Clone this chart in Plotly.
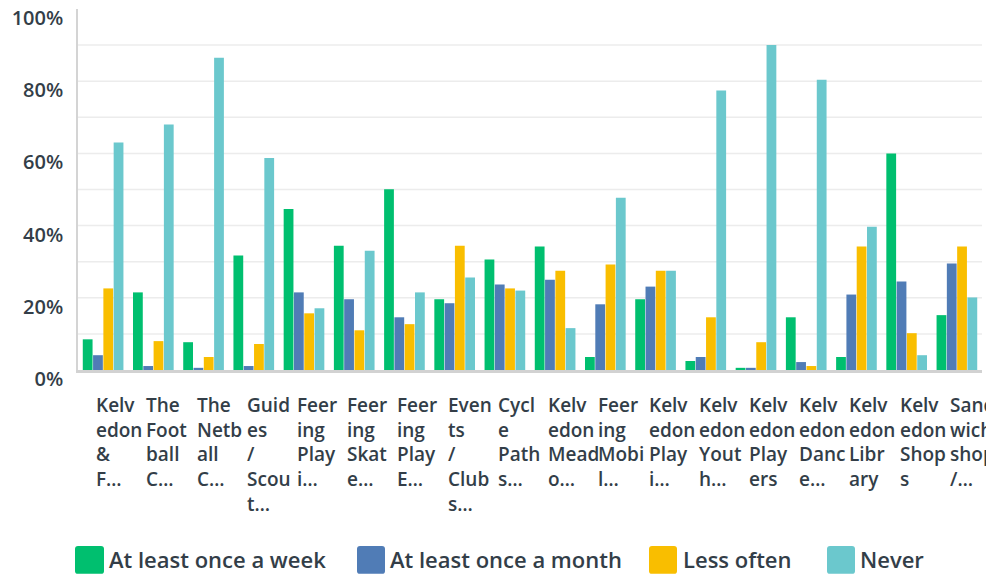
import plotly.graph_objects as go

# ---------------- data ----------------
categories = [
    "Kelv<br>edon<br>&<br>F…",
    "The<br>Foot<br>ball<br>C…",
    "The<br>Netb<br>all<br>C…",
    "Guid<br>es<br>/<br>Scou<br>t…",
    "Feer<br>ing<br>Play<br>i…",
    "Feer<br>ing<br>Skat<br>e…",
    "Feer<br>ing<br>Play<br>E…",
    "Even<br>ts<br>/<br>Club<br>s…",
    "Cycl<br>e<br>Path<br>s…",
    "Kelv<br>edon<br>Mead<br>o…",
    "Feer<br>ing<br>Mobi<br>l…",
    "Kelv<br>edon<br>Play<br>i…",
    "Kelv<br>edon<br>Yout<br>h…",
    "Kelv<br>edon<br>Play<br>ers",
    "Kelv<br>edon<br>Danc<br>e…",
    "Kelv<br>edon<br>Libr<br>ary",
    "Kelv<br>edon<br>Shop<br>s",
    "Sand<br>wich<br>shop<br>/…",
]

series_names = ["At least once a week", "At least once a month", "Less often", "Never"]

weekly = [8.5, 21.5, 7.7, 31.7, 44.6, 34.4, 50.1, 19.6, 30.6, 34.2, 3.6, 19.6, 2.5, 0.6, 14.6, 3.6, 60.0, 15.2]
monthly = [4.1, 1.1, 0.6, 1.1, 21.5, 19.6, 14.6, 18.5, 23.7, 25.0, 18.2, 23.1, 3.6, 0.6, 2.2, 20.9, 24.5, 29.5]
less_often = [22.6, 8.0, 3.6, 7.2, 15.7, 11.0, 12.7, 34.4, 22.6, 27.5, 29.2, 27.5, 14.6, 7.7, 1.1, 34.2, 10.2, 34.2]
never = [63.0, 68.0, 86.5, 58.7, 17.1, 33.0, 21.5, 25.6, 22.0, 11.6, 47.7, 27.5, 77.4, 90.0, 80.4, 39.7, 4.1, 20.1]

y_tick_vals = [0, 0.2, 0.4, 0.6, 0.8, 1.0]
y_tick_text = ["0%", "20%", "40%", "60%", "80%", "100%"]
grid_vals = [0.1, 0.2, 0.3, 0.4, 0.5, 0.6, 0.7, 0.8, 0.9]

# ---------------- style ----------------
colors = ["#00BF6F", "#507CB6", "#F9BE00", "#6BC8CD"]
text_color = "#333e48"
font_family = "Open Sans, Roboto, sans-serif"

W, H = 986, 576
ML, MR, MT, MB = 78, 4, 7, 206
plot_w = W - ML - MR
plot_h = H - MT - MB


def px_x(x):
    return (x - ML) / plot_w


def px_y(y):
    return (H - MB - y) / plot_h


fig = go.Figure()
for name, vals, col in zip(series_names, [weekly, monthly, less_often, never], colors):
    fig.add_trace(go.Bar(
        x=categories,
        y=[v / 100 for v in vals],
        name=name,
        marker=dict(color=col, line=dict(width=0)),
        showlegend=False,
    ))

shapes = []
for g in grid_vals:
    shapes.append(dict(type="line", xref="paper", yref="y", x0=0, x1=1, y0=g, y1=g,
                       line=dict(color="#ececec", width=1.5), layer="below"))

annotations = []
for c in categories:
    annotations.append(dict(
        x=c, xref="x", y=0, yref="paper", xanchor="left", yanchor="top",
        xshift=-9, yshift=-20, text=c, showarrow=False, align="left",
        font=dict(family=font_family, size=19, color=text_color, weight=600),
    ))

# manual legend (rounded boxes + labels)
legend_items = [(75, 104, 109), (357, 385, 390), (649, 677, 683), (827, 855, 860)]
box_top, box_bot = 547, 575
r = 3
for (bx0, bx1, tx), name, col in zip(legend_items, series_names, colors):
    x0, x1 = px_x(bx0), px_x(bx1)
    y0, y1 = px_y(box_bot), px_y(box_top)
    rx, ry = r / plot_w, r / plot_h
    path = (f"M{x0+rx},{y0} L{x1-rx},{y0} Q{x1},{y0} {x1},{y0+ry} "
            f"L{x1},{y1-ry} Q{x1},{y1} {x1-rx},{y1} L{x0+rx},{y1} Q{x0},{y1} {x0},{y1-ry} "
            f"L{x0},{y0+ry} Q{x0},{y0} {x0+rx},{y0} Z")
    shapes.append(dict(type="path", xref="paper", yref="paper", path=path,
                       fillcolor=col, line=dict(width=0)))
    annotations.append(dict(
        x=px_x(tx), xref="paper", y=px_y(560), yref="paper", xanchor="left", yanchor="middle",
        text=name, showarrow=False, xshift=-2,
        font=dict(family=font_family, size=22, color=text_color, weight=600),
    ))

fig.update_layout(
    width=W, height=H, autosize=False,
    margin=dict(l=ML, r=MR, t=MT, b=MB, pad=0),
    paper_bgcolor="white", plot_bgcolor="white",
    barmode="group", bargap=0.18, bargroupgap=0.05,
    shapes=shapes, annotations=annotations,
    showlegend=False,
    xaxis=dict(range=[-0.5, len(categories) - 0.5], autorange=False,
               showticklabels=False, showgrid=False, zeroline=False, ticks="",
               showline=True, linecolor="#d2d2d2", linewidth=2.5, fixedrange=True),
    yaxis=dict(range=[0, 1], autorange=False, tickvals=y_tick_vals, ticktext=y_tick_text,
               showgrid=False, zeroline=False, ticks="",
               showline=True, linecolor="#d4d4d4", linewidth=1.5,
               ticklabelstandoff=9, ticklabelshift=9, ticklabeloverflow="allow",
               tickfont=dict(family=font_family, size=20, color=text_color, weight=600)),
)

fig.write_html(
    "out.html",
    config={"displayModeBar": False},
    post_script="document.body.style.margin='0';document.body.style.padding='0';",
)
